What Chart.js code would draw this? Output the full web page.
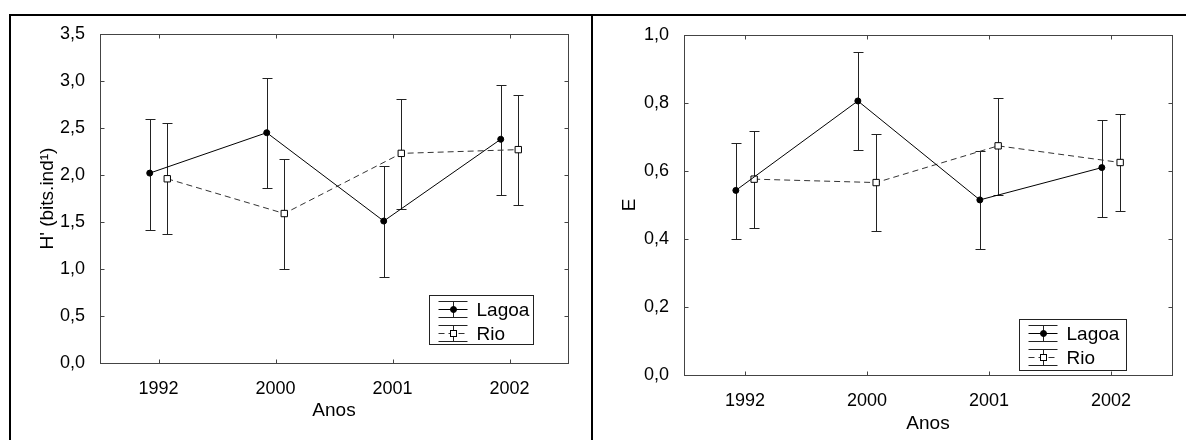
<!DOCTYPE html>
<html lang="pt">
<head>
<meta charset="UTF-8">
<title>Diversidade e equitabilidade por ano</title>
<script src="https://cdn.jsdelivr.net/npm/chart.js@4/dist/chart.umd.min.js"></script>
<style>
  body { margin: 0; background: #fff; }
  #wrap { position: relative; width: 1186px; height: 440px; overflow: hidden; }
  canvas { position: absolute; top: 0; }
  #cvH { left: 0; }
  #cvE { left: 593px; }
  .frame { position: absolute; left: 9px; top: 14px; width: 1200px; height: 460px;
           border-left: 2px solid #000; border-top: 2px solid #000; }
  .divider { position: absolute; left: 591px; top: 14px; width: 2px; height: 440px; background: #000; }
</style>
</head>
<body>
<div id="wrap">
  <canvas id="cvH" width="591" height="440"></canvas>
  <canvas id="cvE" width="593" height="440"></canvas>
  <div class="frame"></div>
  <div class="divider"></div>
</div>

<script>
// anos amostrados
var anos = ['1992', '2000', '2001', '2002'];

// H' (bits.ind-1): media e limites das barras
var hLagoa    = [2.02, 2.45, 1.51, 2.38];
var hLagoaMin = [1.41, 1.86, 0.92, 1.79];
var hLagoaMax = [2.60, 3.03, 2.10, 2.96];
var hRio      = [1.96, 1.59, 2.23, 2.27];
var hRioMin   = [1.37, 1.00, 1.64, 1.68];
var hRioMax   = [2.55, 2.17, 2.81, 2.85];

// equitabilidade E
var eLagoa    = [0.543, 0.806, 0.515, 0.610];
var eLagoaMin = [0.400, 0.662, 0.371, 0.466];
var eLagoaMax = [0.683, 0.949, 0.659, 0.751];
var eRio      = [0.576, 0.566, 0.674, 0.625];
var eRioMin   = [0.431, 0.424, 0.530, 0.481];
var eRioMax   = [0.718, 0.708, 0.816, 0.768];

var FONT = 'Liberation Sans, Arial, sans-serif';
var INK = '#000';
var DODGE = 0.075;   // deslocamento lateral das duas series

// barras de erro (desenhadas antes das linhas, para os marcadores ficarem por cima)
var errorBars = {
	id: 'errorBars',
	beforeDatasetsDraw: function(chart) {
		var ctx = chart.ctx, y = chart.scales.y;
		chart.data.datasets.forEach(function(ds, k) {
			var meta = chart.getDatasetMeta(k);
			ctx.save();
			ctx.strokeStyle = '#222';
			ctx.lineWidth = 1;
			meta.data.forEach(function(pt, i) {
				var px = Math.round(pt.x) + 0.5;
				var top = Math.round(y.getPixelForValue(ds.hi[i])) + 0.5;
				var bot = Math.round(y.getPixelForValue(ds.lo[i])) + 0.5;
				ctx.beginPath();
				ctx.moveTo(px, top); ctx.lineTo(px, bot);
				ctx.moveTo(px - 5, top); ctx.lineTo(px + 5, top);
				ctx.moveTo(px - 5, bot); ctx.lineTo(px + 5, bot);
				ctx.stroke();
			});
			ctx.restore();
		});
	}
};

// moldura do grafico com marcas de escala para dentro
var frame = {
	id: 'frame',
	afterDraw: function(chart) {
		var ctx = chart.ctx, a = chart.chartArea;
		var l = Math.round(a.left) + 0.5, r = Math.round(a.right) + 0.5;
		var t = Math.round(a.top) + 0.5, b = Math.round(a.bottom) + 0.5;
		ctx.save();
		ctx.strokeStyle = '#444';
		ctx.lineWidth = 1;
		ctx.strokeRect(l, t, r - l, b - t);
		ctx.beginPath();
		chart.scales.y.ticks.forEach(function(tk) {
			var py = Math.round(chart.scales.y.getPixelForValue(tk.value)) + 0.5;
			ctx.moveTo(l, py); ctx.lineTo(l + 4, py);
			ctx.moveTo(r, py); ctx.lineTo(r - 4, py);
		});
		chart.scales.x.ticks.forEach(function(tk) {
			var px = Math.round(chart.scales.x.getPixelForValue(tk.value)) + 0.5;
			ctx.moveTo(px, b); ctx.lineTo(px, b - 4);
			ctx.moveTo(px, t); ctx.lineTo(px, t + 4);
		});
		ctx.stroke();
		ctx.restore();
	}
};

// legenda em caixa, com o simbolo de barra de erro
var boxLegend = {
	id: 'boxLegend',
	afterDraw: function(chart, args, opts) {
		var ctx = chart.ctx, a = chart.chartArea;
		var x0 = Math.round(a.right - opts.fromRight - opts.w) + 0.5;
		var y0 = Math.round(a.bottom - opts.fromBottom - opts.h) + 0.5;
		ctx.save();
		ctx.fillStyle = '#fff';
		ctx.fillRect(x0, y0, opts.w, opts.h);
		ctx.strokeStyle = '#222';
		ctx.lineWidth = 1;
		ctx.strokeRect(x0, y0, opts.w, opts.h);
		chart.data.datasets.forEach(function(ds, k) {
			var cy = Math.round(y0 + 13 + k * 24) + 0.5;
			var sx = Math.round(x0 + 23) + 0.5;
			ctx.strokeStyle = '#222';
			ctx.setLineDash([]);
			ctx.beginPath();
			ctx.moveTo(sx - 15, cy - 8); ctx.lineTo(sx + 14, cy - 8);
			ctx.moveTo(sx - 15, cy + 8); ctx.lineTo(sx + 14, cy + 8);
			ctx.moveTo(sx, cy - 8); ctx.lineTo(sx, cy + 8);
			ctx.stroke();
			ctx.strokeStyle = ds.borderColor;
			ctx.setLineDash(ds.borderDash || []);
			ctx.beginPath();
			ctx.moveTo(sx - 15, cy); ctx.lineTo(sx + 14, cy);
			ctx.stroke();
			ctx.setLineDash([]);
			ctx.fillStyle = ds.pointBackgroundColor;
			ctx.strokeStyle = ds.pointBorderColor;
			if (ds.pointStyle === 'rect') {
				ctx.fillRect(sx - 3, cy - 3, 6, 6);
				ctx.strokeRect(sx - 3, cy - 3, 6, 6);
			} else {
				ctx.beginPath();
				ctx.arc(sx, cy, 3, 0, Math.PI * 2);
				ctx.fill();
				ctx.stroke();
			}
			ctx.fillStyle = INK;
			ctx.font = '19px ' + FONT;
			ctx.textBaseline = 'middle';
			ctx.fillText(ds.label, x0 + 47, cy + 1);
		});
		ctx.restore();
	}
};

function series(label, mean, lo, hi, shift, solid) {
	return {
		label: label,
		data: mean.map(function(v, i) { return { x: i + shift, y: v }; }),
		lo: lo,
		hi: hi,
		borderColor: solid ? '#000' : '#333',
		borderWidth: 1,
		borderDash: solid ? [] : [6, 4],
		pointStyle: solid ? 'circle' : 'rect',
		pointRadius: solid ? 3 : 4.5,
		pointBackgroundColor: solid ? '#000' : '#fff',
		pointBorderColor: '#000',
		pointBorderWidth: 1,
		tension: 0
	};
}

function makeChart(id, o) {
	return new Chart(document.getElementById(id), {
		type: 'line',
		data: {
			datasets: [
				series('Lagoa', o.lagoa[0], o.lagoa[1], o.lagoa[2], -DODGE, true),
				series('Rio', o.rio[0], o.rio[1], o.rio[2], DODGE, false)
			]
		},
		options: {
			responsive: false,
			animation: false,
			devicePixelRatio: 1,
			layout: { padding: { top: o.padTop, right: o.padRight, left: 0, bottom: 0 } },
			scales: {
				x: {
					type: 'linear',
					min: -0.5,
					max: anos.length - 0.5,
					afterBuildTicks: function(s) {
						s.ticks = anos.map(function(a, i) { return { value: i }; });
					},
					afterFit: function(s) { s.height = o.xHeight; },
					grid: { display: false },
					border: { display: false },
					ticks: {
						autoSkip: false,
						maxRotation: 0,
						padding: o.xTickPad,
						color: INK,
						font: { family: FONT, size: 18 },
						callback: function(v) { return anos[v]; }
					},
					title: {
						display: true,
						text: 'Anos',
						color: INK,
						font: { family: FONT, size: 19 },
						padding: { top: 0, bottom: o.xTitlePad }
					}
				},
				y: {
					min: 0,
					max: o.yMax,
					afterFit: function(s) { s.width = o.yWidth; },
					grid: { display: false },
					border: { display: false },
					ticks: {
						stepSize: o.yStep,
						padding: 7,
						color: INK,
						font: { family: FONT, size: 18 },
						callback: function(v) { return v.toFixed(1).replace('.', ','); }
					},
					title: {
						display: true,
						text: o.yTitle,
						color: INK,
						font: { family: FONT, size: 19 },
						padding: { top: o.yTitlePad, bottom: 0 }
					}
				}
			},
			plugins: {
				legend: { display: false },
				tooltip: { enabled: false },
				boxLegend: o.legend
			}
		},
		plugins: [errorBars, frame, boxLegend]
	});
}

makeChart('cvH', {
	lagoa: [hLagoa, hLagoaMin, hLagoaMax],
	rio: [hRio, hRioMin, hRioMax],
	yMax: 3.5, yStep: 0.5,
	yTitle: "H' (bits.ind\u00B9)",
	padTop: 34, padRight: 23,
	yWidth: 100, xHeight: 77,
	xTickPad: 7, xTitlePad: 18, yTitlePad: 36,
	legend: { fromRight: 35, fromBottom: 19, w: 104, h: 49 }
});

makeChart('cvE', {
	lagoa: [eLagoa, eLagoaMin, eLagoaMax],
	rio: [eRio, eRioMin, eRioMax],
	yMax: 1.0, yStep: 0.2,
	yTitle: 'E',
	padTop: 35, padRight: 14,
	yWidth: 91, xHeight: 65,
	xTickPad: 7, xTitlePad: 5, yTitlePad: 25,
	legend: { fromRight: 46, fromBottom: 5, w: 107, h: 51 }
});
</script>
</body>
</html>
